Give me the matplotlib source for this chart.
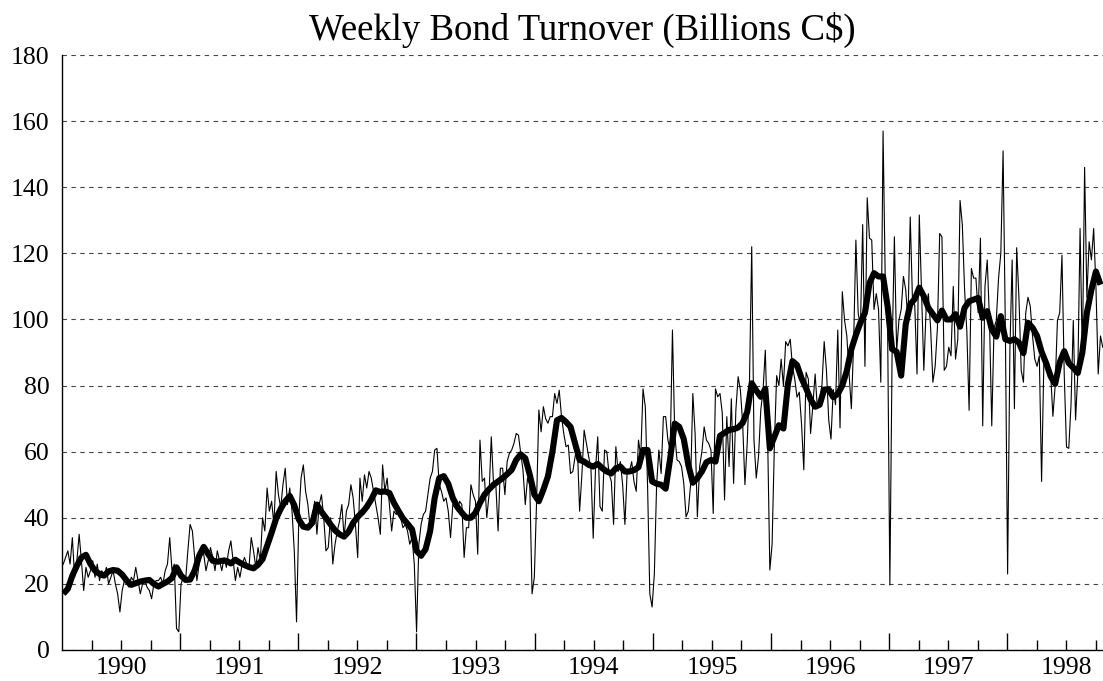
import pandas as pd
import matplotlib
matplotlib.use('Agg')
import matplotlib.pyplot as plt
from matplotlib.ticker import FixedLocator, FixedFormatter, NullFormatter

plt.rcParams['font.family'] = ['Liberation Serif', 'DejaVu Serif']

# weekly turnover, billions C$ (week ending Friday), one list per year
w1990 = [26, 28, 30, 26, 34, 22, 27, 35, 27, 18, 25, 22, 24, 27, 22, 26, 21, 24, 22, 25,
         20, 22, 24, 20, 17, 11.5, 18, 21, 20, 19, 22, 21, 25, 21, 17, 20, 21, 19, 18, 15.5,
         20, 21, 21, 22, 20, 24, 26, 34, 24, 26, 6.5, 5.5]
w1991 = [20, 22, 21, 30, 38, 36, 28, 21, 26, 30, 29, 24, 27, 31, 28, 24, 30, 27, 24, 28,
         25, 30, 33, 27, 21, 25, 22, 26, 28, 26, 25, 34, 30, 25, 31, 27, 40, 36, 49, 42,
         45, 38, 54, 47, 43, 50, 55, 44, 49, 42, 30, 8.5]
w1992 = [40, 52, 56, 48, 44, 37, 40, 45, 35, 44, 47, 40, 30, 31, 40, 26, 32, 36, 39, 44,
         34, 42, 44, 50, 46, 38, 28, 52, 45, 53, 49, 54, 52, 48, 44, 40, 35, 56, 48, 52,
         44, 36, 42, 41, 42, 40, 37, 38, 36, 32, 34, 26]
w1993 = [5.5, 32, 38, 41, 42, 47, 52, 54, 60.5, 61, 50, 48, 45, 46, 42, 34, 44, 43, 42, 45,
         44, 28, 37, 37, 50, 47, 45, 29, 63.5, 51, 52, 40, 47, 64.5, 50, 50, 36, 55, 55, 47,
         57, 59.5, 60.5, 62.5, 65.5, 65, 59.5, 54.4, 44, 52, 50, 17, 22]
w1994 = [45, 72.6, 66, 73.6, 70, 68.6, 70.6, 70.6, 77.6, 74.6, 78.6, 70.6, 65.5, 61.5, 62,
         53.4, 54, 58.5, 61.5, 42, 53, 66.5, 62.5, 58.5, 55, 33.8, 54.4, 64.5, 43.4, 42,
         60.5, 60, 53.4, 51, 38, 61.5, 54, 57, 50, 38, 54, 54, 57, 51, 48, 63.5, 58.5, 79,
         73.6, 50, 17, 13]
w1995 = [23, 50, 60.5, 53.4, 70.6, 70.6, 63.5, 60.5, 96.8, 65.5, 57.5, 57, 55.5, 50.4,
         40.3, 42, 50, 77.6, 65.5, 40.3, 55.5, 60, 67.5, 63.5, 62.5, 60.5, 41.3, 79, 76.6,
         77.6, 71.6, 45.4, 70.6, 55.5, 76, 50.4, 72.6, 82.7, 78.6, 68.6, 50, 62.5, 80.7, 122,
         63.5, 52, 58.5, 72.6, 78.6, 90.7, 65.5, 24.2]
w1996 = [32, 62, 83, 80, 88, 80, 93.3, 92, 94, 85.8, 82, 76.5, 78, 68.4, 54.5, 84, 82, 65.5,
         74, 83.5, 73, 76, 80, 93.3, 84.6, 69.6, 63.8, 78.8, 74.2, 96.8, 67.2, 108.4, 99.7,
         95, 83.5, 73, 92.8, 124, 102, 97.4, 128.7, 85.8, 136.8, 124.6, 124, 103, 107.8, 103,
         81, 157, 110, 98.5]
w1997 = [19.7, 90.4, 125, 90.4, 99.7, 103, 113, 109, 99.7, 131, 105.5, 104.3, 83.5, 131.6,
         107.8, 84.6, 103, 107.8, 97.4, 81, 85.8, 97.4, 126, 125, 84.6, 85.8, 91.6, 89, 110,
         88, 94, 136, 128.7, 109, 96.2, 72.5, 115.4, 112.5, 112.5, 102, 124.6, 67.8, 110,
         118, 99.7, 67.8, 97.4, 99.7, 112.5, 120, 151, 97.4]
w1998 = [23, 90.4, 118, 73, 121.7, 106.7, 84.6, 81, 102, 106.7, 104, 95, 88, 85.8, 89, 51,
         87, 87, 87, 83.5, 70.7, 80, 99.7, 102, 119.4, 83.5, 61.4, 61, 74.2, 99.7, 69.6, 83.5,
         127.5, 88, 146, 106.7, 123.5, 118, 127.5, 110, 83.5, 95, 91.6]

# moving average (thick line), read every second week
ma_values = [17, 18.5, 22.5, 25.5, 28, 28.8, 26, 24, 23, 22.5, 23.8, 24.2, 24, 22.8, 21,
             19.7, 20.2, 20.7, 21, 21.2, 20, 19.2, 20, 20.7, 21.8, 25, 22.5, 21.2, 21.3, 24,
             28.5, 31.2, 29, 27, 26.7, 27, 27, 26.2, 27.3, 26.4, 25.7, 25.1, 24.7, 25.8, 27.5,
             31.5, 35.5, 39.8, 42.7, 45, 46.6, 43.8, 39.5, 37.3, 37, 38.5, 44, 41.8, 40, 38,
             36.2, 35, 34.3, 35.8, 38.5, 40.3, 41.6, 43.3, 45.5, 48.3, 47.8, 48, 47.5, 44.5,
             42.1, 39.8, 38.2, 36.5, 30, 28.5, 30.5, 36, 46, 52, 52.6, 50.3, 46, 43.3, 41.5,
             40, 40, 41.5, 44.5, 47, 48.6, 50, 51, 52, 53.2, 54.5, 57.5, 59.2, 58, 53, 47, 45,
             48.5, 52.5, 60, 69.5, 70.2, 69, 67.5, 62.5, 57.5, 57, 56, 55.5, 56.3, 55, 54,
             53.4, 55, 55.5, 54, 54, 54.4, 55.3, 60.5, 60.5, 51, 50.3, 50, 48.8, 58, 68.5,
             67.5, 63.8, 56, 50.6, 52, 54, 56.8, 57.5, 57, 64.8, 65.7, 66.6, 66.8, 67.3, 68.7,
             72, 80.7, 78.5, 76.6, 79, 61, 64.5, 68, 67, 80.5, 87.4, 86.2, 82.2, 79.2, 75.8,
             73.6, 74.2, 78.8, 78.8, 76.5, 77.5, 80, 84.5, 91, 95.3, 99, 102, 111, 114, 113,
             113, 104, 91, 90.2, 83, 98.5, 104.6, 106.2, 109.6, 107, 103.5, 101.6, 99.7,
             102.7, 100, 100, 101.6, 97.8, 103.5, 105.5, 106, 106.5, 100.5, 102.5, 97, 94.8,
             101, 94, 93.5, 94, 93, 89.8, 99, 97.5, 95, 90.2, 86.8, 82.8, 80.5, 87, 90.4, 86.8,
             85.4, 83.8, 90, 102, 109, 114.5, 110.5]

years = [1990, 1991, 1992, 1993, 1994, 1995, 1996, 1997, 1998]
yticks = [0, 20, 40, 60, 80, 100, 120, 140, 160, 180]

weekly = w1990 + w1991 + w1992 + w1993 + w1994 + w1995 + w1996 + w1997 + w1998
dates = pd.date_range('1990-01-05', periods=len(weekly), freq='W-FRI')
t = 1990 + (dates - pd.Timestamp('1990-01-01')).days / 365.25
ma_t = t[::2][:len(ma_values)]

fig = plt.figure(figsize=(11.03, 6.81), dpi=100)
ax = fig.add_axes([62 / 1103, 31 / 681, 1041 / 1103, 595 / 681])

ax.plot(t, weekly, color='black', lw=0.8)
ax.plot(ma_t, ma_values, color='black', lw=4.4, solid_joinstyle='round',
        solid_capstyle='butt')

ax.set_xlim(1990.0, 1998.81)
ax.set_ylim(0, 180)

# year boundaries = long ticks, quarters = short ticks, year names at mid-year
ax.xaxis.set_major_locator(FixedLocator(years[1:]))
ax.xaxis.set_major_formatter(NullFormatter())
minor_pos = []
minor_lab = []
for y in years:
    for q in (0.25, 0.5, 0.75):
        minor_pos.append(y + q)
        minor_lab.append(str(y) if q == 0.5 else '')
ax.xaxis.set_minor_locator(FixedLocator(minor_pos))
ax.xaxis.set_minor_formatter(FixedFormatter(minor_lab))
ax.tick_params(axis='x', which='major', direction='in', length=12, width=1)
ax.tick_params(axis='x', which='minor', direction='in', length=7, width=1,
               labelsize=18.5, pad=5)

ax.set_yticks(yticks)
ax.tick_params(axis='y', length=0, labelsize=18.5, pad=9)

ax.grid(axis='y', color='#444444', lw=0.8, linestyle=(0, (4, 4)))
ax.set_axisbelow(True)

for s in ('top', 'right'):
    ax.spines[s].set_visible(False)
ax.spines['left'].set_linewidth(1.0)
ax.spines['bottom'].set_linewidth(1.0)

ax.set_title('Weekly Bond Turnover (Billions C$)', fontsize=26.5, pad=11)

fig.savefig('out.png', dpi=100)
